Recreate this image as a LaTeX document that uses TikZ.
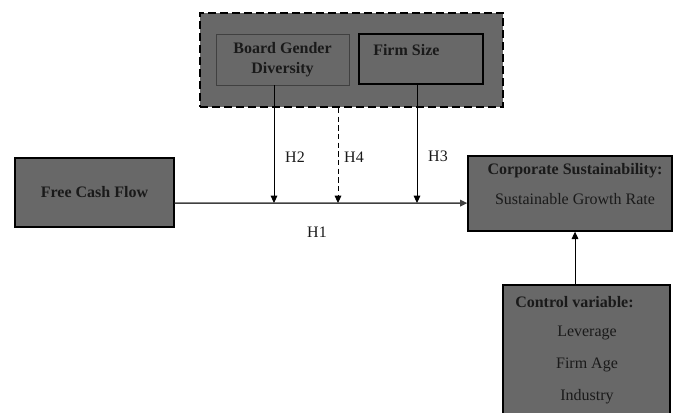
\documentclass[tikz,border=0pt]{standalone}
\usepackage{fontspec}
\setmainfont{Liberation Serif}
\usetikzlibrary{arrows.meta,positioning}
\definecolor{boxGray}{RGB}{104,104,104}
\definecolor{lineGray}{RGB}{64,64,64}
\definecolor{textDark}{RGB}{26,26,26}

\begin{document}
\begin{tikzpicture}[
  x=0.75pt, y=-0.75pt,
  font=\fontsize{12}{14}\selectfont,
  text=textDark,
  box/.style={
    draw,
    fill=boxGray,
    line width=1pt,
    inner sep=0pt
  },
  word/.style={inner sep=0pt, font=\fontsize{12}{14}\selectfont\bfseries},
  plain/.style={inner sep=0pt},
  arrow/.style={-{Triangle[length=5.5pt,width=5pt]},line width=0.7pt,black}
]
  \useasboundingbox (0,0) rectangle (673,412);
  \clip (0,0) rectangle (673,412);

  % moderators
  \node[box, dashed, dash pattern=on 6pt off 3pt, line width=1.4pt,
    minimum width=227.25pt, minimum height=70.5pt] (moderators) at (351.5,60) {};
  \node[box, draw=black!75, line width=0.6pt, align=center,
    font=\fontsize{12}{15}\selectfont\bfseries,
    minimum width=99.75pt, minimum height=38.25pt] (board) at (282.5,59.5)
    {Board Gender\\Diversity};
  \node[box, line width=0.9pt, minimum width=93pt, minimum height=37.5pt]
    (size) at (421,59) {};
  \node[word, anchor=west] (sizetext) at (373,50) {Firm Size};

  % independent and dependent
  \node[box, word, minimum width=119.25pt, minimum height=51.75pt]
    (fcf) at (94.5,192.5) {Free Cash Flow};
  \node[box, minimum width=153pt, minimum height=56.25pt]
    (corp) at (570,193.5) {};
  \node[word] (corptitle) at (575,171) {Corporate Sustainability:};
  \node[plain, below=11pt of corptitle] (growth) {Sustainable Growth Rate};

  % controls
  \node[box, minimum width=125.25pt, minimum height=108.75pt]
    (control) at (586.5,357.5) {};
  \node[word, anchor=west] (ctrltitle) at (515,302) {Control variable:};
  \node[plain] (leverage) at (587,333) {Leverage};
  \node[plain] (age) at (587,365) {Firm Age};
  \node[plain] (industry) at (587,397) {Industry};

  % points on the main path
  \coordinate (m2) at (274,203);
  \coordinate (m4) at (338,203);
  \coordinate (m3) at (417,203);
  \coordinate (cv) at (575,0);

  \draw[arrow, lineGray, line width=1.1pt] ([yshift=-7.9pt]fcf.east) --
    ([yshift=-7.2pt]corp.west);
  \draw[arrow] (board.south -| m2) -- (m2);
  \draw[arrow, dashed, dash pattern=on 4pt off 2.5pt] (moderators.south -| m4) -- (m4);
  \draw[arrow] (size.south -| m3) -- (m3);
  \draw[arrow] (control.north -| cv) -- (corp.south -| cv);

  \node[plain] (h2) at (295,157) {H2};
  \node[plain] (h4) at (354,157) {H4};
  \node[plain] (h3) at (438,156) {H3};
  \node[plain] (h1) at (317,232) {H1};
\end{tikzpicture}
\end{document}
